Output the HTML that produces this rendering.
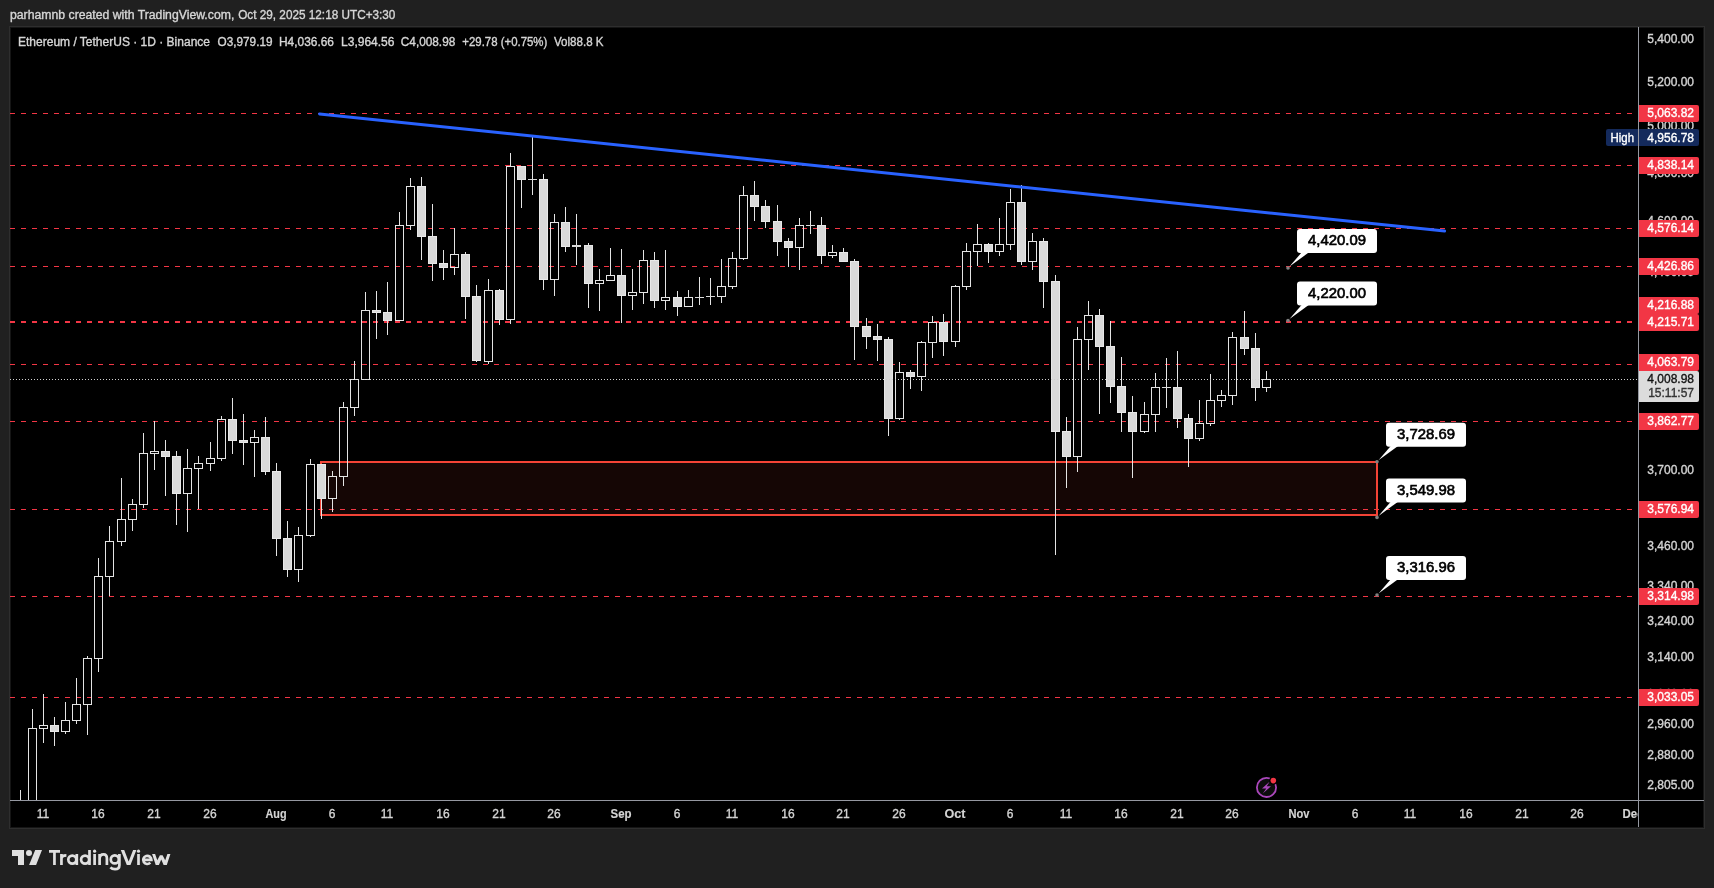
<!DOCTYPE html><html><head><meta charset="utf-8"><style>html,body{margin:0;padding:0;background:#202020;overflow:hidden}svg{display:block}text{font-family:"Liberation Sans", sans-serif}</style></head><body>
<svg style="will-change:transform" width="1714" height="888" viewBox="0 0 1714 888">
<rect x="0" y="0" width="1714" height="888" fill="#202020"/>
<text x="10" y="18.7" font-size="12" fill="#d6d6d6" textLength="224.3" lengthAdjust="spacingAndGlyphs" stroke="#d6d6d6" stroke-width="0.35">parhamnb created with TradingView.com,</text>
<text x="238.2" y="18.7" font-size="12" fill="#d6d6d6" textLength="157.2" lengthAdjust="spacingAndGlyphs" stroke="#d6d6d6" stroke-width="0.35">Oct 29, 2025 12:18 UTC+3:30</text>
<rect x="9" y="26" width="1696" height="803" fill="#2e2e2e" shape-rendering="crispEdges"/>
<rect x="10" y="27" width="1694" height="801" fill="#151515" shape-rendering="crispEdges"/>
<rect x="11" y="28" width="1692" height="799" fill="#000" shape-rendering="crispEdges"/>
<defs><clipPath id="plot"><rect x="10" y="27" width="1628" height="773"/></clipPath><clipPath id="taxis"><rect x="10" y="801" width="1628" height="26"/></clipPath></defs>
<g clip-path="url(#plot)">
<line x1="10" y1="113.5" x2="1638" y2="113.5" stroke="#f23645" stroke-width="1" stroke-dasharray="5 6" shape-rendering="crispEdges"/>
<line x1="10" y1="165.5" x2="1638" y2="165.5" stroke="#f23645" stroke-width="1" stroke-dasharray="5 6" shape-rendering="crispEdges"/>
<line x1="10" y1="228.5" x2="1638" y2="228.5" stroke="#f23645" stroke-width="1" stroke-dasharray="5 6" shape-rendering="crispEdges"/>
<line x1="10" y1="266.5" x2="1638" y2="266.5" stroke="#f23645" stroke-width="1" stroke-dasharray="5 6" shape-rendering="crispEdges"/>
<line x1="10" y1="322.0" x2="1638" y2="322.0" stroke="#f23645" stroke-width="2" stroke-dasharray="5 6" shape-rendering="crispEdges"/>
<line x1="10" y1="364.5" x2="1638" y2="364.5" stroke="#f23645" stroke-width="1" stroke-dasharray="5 6" shape-rendering="crispEdges"/>
<line x1="10" y1="421.5" x2="1638" y2="421.5" stroke="#f23645" stroke-width="1" stroke-dasharray="5 6" shape-rendering="crispEdges"/>
<line x1="10" y1="509.5" x2="1638" y2="509.5" stroke="#f23645" stroke-width="1" stroke-dasharray="5 6" shape-rendering="crispEdges"/>
<line x1="10" y1="596.5" x2="1638" y2="596.5" stroke="#f23645" stroke-width="1" stroke-dasharray="5 6" shape-rendering="crispEdges"/>
<line x1="10" y1="697.5" x2="1638" y2="697.5" stroke="#f23645" stroke-width="1" stroke-dasharray="5 6" shape-rendering="crispEdges"/>
<rect x="321" y="462" width="1056" height="53" fill="rgba(244,67,54,0.085)" stroke="#f44336" stroke-width="2"/>
<rect x="20" y="790" width="1" height="10" fill="#e4e4e4"/>
<rect x="32" y="709" width="1" height="19" fill="#e4e4e4"/>
<rect x="28.5" y="728.5" width="8" height="81" fill="none" stroke="#e4e4e4" stroke-width="1"/>
<rect x="43" y="694" width="1" height="31" fill="#e4e4e4"/>
<rect x="43" y="729" width="1" height="14" fill="#e4e4e4"/>
<rect x="39.5" y="725.5" width="8" height="3" fill="none" stroke="#e4e4e4" stroke-width="1"/>
<rect x="54" y="717" width="1" height="8" fill="#e4e4e4"/>
<rect x="54" y="732" width="1" height="14" fill="#e4e4e4"/>
<rect x="50" y="725" width="9" height="7" fill="#d9d9d9"/>
<rect x="50.5" y="725.5" width="8" height="6" fill="none" stroke="#e8e8e8" stroke-width="1"/>
<rect x="65" y="702" width="1" height="18" fill="#e4e4e4"/>
<rect x="65" y="732" width="1" height="2" fill="#e4e4e4"/>
<rect x="61.5" y="720.5" width="8" height="11" fill="none" stroke="#e4e4e4" stroke-width="1"/>
<rect x="76" y="678" width="1" height="26" fill="#e4e4e4"/>
<rect x="76" y="721" width="1" height="3" fill="#e4e4e4"/>
<rect x="72.5" y="704.5" width="8" height="16" fill="none" stroke="#e4e4e4" stroke-width="1"/>
<rect x="87" y="656" width="1" height="2" fill="#e4e4e4"/>
<rect x="87" y="705" width="1" height="30" fill="#e4e4e4"/>
<rect x="83.5" y="658.5" width="8" height="46" fill="none" stroke="#e4e4e4" stroke-width="1"/>
<rect x="98" y="558" width="1" height="18" fill="#e4e4e4"/>
<rect x="98" y="659" width="1" height="13" fill="#e4e4e4"/>
<rect x="94.5" y="576.5" width="8" height="82" fill="none" stroke="#e4e4e4" stroke-width="1"/>
<rect x="109" y="526" width="1" height="15" fill="#e4e4e4"/>
<rect x="109" y="577" width="1" height="19" fill="#e4e4e4"/>
<rect x="105.5" y="541.5" width="8" height="35" fill="none" stroke="#e4e4e4" stroke-width="1"/>
<rect x="121" y="478" width="1" height="41" fill="#e4e4e4"/>
<rect x="121" y="542" width="1" height="4" fill="#e4e4e4"/>
<rect x="117.5" y="519.5" width="8" height="22" fill="none" stroke="#e4e4e4" stroke-width="1"/>
<rect x="132" y="499" width="1" height="5" fill="#e4e4e4"/>
<rect x="132" y="520" width="1" height="11" fill="#e4e4e4"/>
<rect x="128.5" y="504.5" width="8" height="15" fill="none" stroke="#e4e4e4" stroke-width="1"/>
<rect x="143" y="433" width="1" height="20" fill="#e4e4e4"/>
<rect x="143" y="505" width="1" height="3" fill="#e4e4e4"/>
<rect x="139.5" y="453.5" width="8" height="51" fill="none" stroke="#e4e4e4" stroke-width="1"/>
<rect x="154" y="421" width="1" height="30" fill="#e4e4e4"/>
<rect x="154" y="454" width="1" height="16" fill="#e4e4e4"/>
<rect x="150.5" y="451.5" width="8" height="2" fill="none" stroke="#e4e4e4" stroke-width="1"/>
<rect x="165" y="440" width="1" height="11" fill="#e4e4e4"/>
<rect x="165" y="457" width="1" height="39" fill="#e4e4e4"/>
<rect x="161" y="451" width="9" height="6" fill="#d9d9d9"/>
<rect x="161.5" y="451.5" width="8" height="5" fill="none" stroke="#e8e8e8" stroke-width="1"/>
<rect x="176" y="451" width="1" height="5" fill="#e4e4e4"/>
<rect x="176" y="494" width="1" height="31" fill="#e4e4e4"/>
<rect x="172" y="456" width="9" height="38" fill="#d9d9d9"/>
<rect x="172.5" y="456.5" width="8" height="37" fill="none" stroke="#e8e8e8" stroke-width="1"/>
<rect x="187" y="449" width="1" height="19" fill="#e4e4e4"/>
<rect x="187" y="494" width="1" height="38" fill="#e4e4e4"/>
<rect x="183.5" y="468.5" width="8" height="25" fill="none" stroke="#e4e4e4" stroke-width="1"/>
<rect x="198" y="456" width="1" height="7" fill="#e4e4e4"/>
<rect x="198" y="469" width="1" height="40" fill="#e4e4e4"/>
<rect x="194.5" y="463.5" width="8" height="5" fill="none" stroke="#e4e4e4" stroke-width="1"/>
<rect x="210" y="442" width="1" height="16" fill="#e4e4e4"/>
<rect x="210" y="464" width="1" height="7" fill="#e4e4e4"/>
<rect x="206.5" y="458.5" width="8" height="5" fill="none" stroke="#e4e4e4" stroke-width="1"/>
<rect x="221" y="416" width="1" height="3" fill="#e4e4e4"/>
<rect x="221" y="459" width="1" height="2" fill="#e4e4e4"/>
<rect x="217.5" y="419.5" width="8" height="39" fill="none" stroke="#e4e4e4" stroke-width="1"/>
<rect x="232" y="398" width="1" height="21" fill="#e4e4e4"/>
<rect x="232" y="441" width="1" height="13" fill="#e4e4e4"/>
<rect x="228" y="419" width="9" height="22" fill="#d9d9d9"/>
<rect x="228.5" y="419.5" width="8" height="21" fill="none" stroke="#e8e8e8" stroke-width="1"/>
<rect x="243" y="414" width="1" height="26" fill="#e4e4e4"/>
<rect x="243" y="443" width="1" height="22" fill="#e4e4e4"/>
<rect x="239" y="440" width="9" height="3" fill="#d9d9d9"/>
<rect x="239.5" y="440.5" width="8" height="2" fill="none" stroke="#e8e8e8" stroke-width="1"/>
<rect x="254" y="430" width="1" height="7" fill="#e4e4e4"/>
<rect x="254" y="443" width="1" height="34" fill="#e4e4e4"/>
<rect x="250.5" y="437.5" width="8" height="5" fill="none" stroke="#e4e4e4" stroke-width="1"/>
<rect x="265" y="417" width="1" height="20" fill="#e4e4e4"/>
<rect x="265" y="472" width="1" height="3" fill="#e4e4e4"/>
<rect x="261" y="437" width="9" height="35" fill="#d9d9d9"/>
<rect x="261.5" y="437.5" width="8" height="34" fill="none" stroke="#e8e8e8" stroke-width="1"/>
<rect x="276" y="463" width="1" height="8" fill="#e4e4e4"/>
<rect x="276" y="539" width="1" height="17" fill="#e4e4e4"/>
<rect x="272" y="471" width="9" height="68" fill="#d9d9d9"/>
<rect x="272.5" y="471.5" width="8" height="67" fill="none" stroke="#e8e8e8" stroke-width="1"/>
<rect x="287" y="521" width="1" height="17" fill="#e4e4e4"/>
<rect x="287" y="570" width="1" height="7" fill="#e4e4e4"/>
<rect x="283" y="538" width="9" height="32" fill="#d9d9d9"/>
<rect x="283.5" y="538.5" width="8" height="31" fill="none" stroke="#e8e8e8" stroke-width="1"/>
<rect x="298" y="527" width="1" height="8" fill="#e4e4e4"/>
<rect x="298" y="570" width="1" height="12" fill="#e4e4e4"/>
<rect x="294.5" y="535.5" width="8" height="34" fill="none" stroke="#e4e4e4" stroke-width="1"/>
<rect x="310" y="459" width="1" height="5" fill="#e4e4e4"/>
<rect x="310" y="536" width="1" height="1" fill="#e4e4e4"/>
<rect x="306.5" y="464.5" width="8" height="71" fill="none" stroke="#e4e4e4" stroke-width="1"/>
<rect x="321" y="499" width="1" height="20" fill="#e4e4e4"/>
<rect x="317" y="464" width="9" height="35" fill="#d9d9d9"/>
<rect x="317.5" y="464.5" width="8" height="34" fill="none" stroke="#e8e8e8" stroke-width="1"/>
<rect x="332" y="471" width="1" height="5" fill="#e4e4e4"/>
<rect x="332" y="499" width="1" height="13" fill="#e4e4e4"/>
<rect x="328.5" y="476.5" width="8" height="22" fill="none" stroke="#e4e4e4" stroke-width="1"/>
<rect x="343" y="402" width="1" height="5" fill="#e4e4e4"/>
<rect x="343" y="477" width="1" height="9" fill="#e4e4e4"/>
<rect x="339.5" y="407.5" width="8" height="69" fill="none" stroke="#e4e4e4" stroke-width="1"/>
<rect x="354" y="361" width="1" height="18" fill="#e4e4e4"/>
<rect x="354" y="408" width="1" height="8" fill="#e4e4e4"/>
<rect x="350.5" y="379.5" width="8" height="28" fill="none" stroke="#e4e4e4" stroke-width="1"/>
<rect x="365" y="292" width="1" height="18" fill="#e4e4e4"/>
<rect x="361.5" y="310.5" width="8" height="69" fill="none" stroke="#e4e4e4" stroke-width="1"/>
<rect x="376" y="291" width="1" height="19" fill="#e4e4e4"/>
<rect x="376" y="313" width="1" height="26" fill="#e4e4e4"/>
<rect x="372" y="310" width="9" height="3" fill="#d9d9d9"/>
<rect x="372.5" y="310.5" width="8" height="2" fill="none" stroke="#e8e8e8" stroke-width="1"/>
<rect x="387" y="282" width="1" height="30" fill="#e4e4e4"/>
<rect x="387" y="321" width="1" height="14" fill="#e4e4e4"/>
<rect x="383" y="312" width="9" height="9" fill="#d9d9d9"/>
<rect x="383.5" y="312.5" width="8" height="8" fill="none" stroke="#e8e8e8" stroke-width="1"/>
<rect x="399" y="212" width="1" height="13" fill="#e4e4e4"/>
<rect x="395.5" y="225.5" width="8" height="95" fill="none" stroke="#e4e4e4" stroke-width="1"/>
<rect x="410" y="178" width="1" height="8" fill="#e4e4e4"/>
<rect x="410" y="226" width="1" height="4" fill="#e4e4e4"/>
<rect x="406.5" y="186.5" width="8" height="39" fill="none" stroke="#e4e4e4" stroke-width="1"/>
<rect x="421" y="177" width="1" height="9" fill="#e4e4e4"/>
<rect x="421" y="237" width="1" height="23" fill="#e4e4e4"/>
<rect x="417" y="186" width="9" height="51" fill="#d9d9d9"/>
<rect x="417.5" y="186.5" width="8" height="50" fill="none" stroke="#e8e8e8" stroke-width="1"/>
<rect x="432" y="204" width="1" height="32" fill="#e4e4e4"/>
<rect x="432" y="264" width="1" height="17" fill="#e4e4e4"/>
<rect x="428" y="236" width="9" height="28" fill="#d9d9d9"/>
<rect x="428.5" y="236.5" width="8" height="27" fill="none" stroke="#e8e8e8" stroke-width="1"/>
<rect x="443" y="250" width="1" height="13" fill="#e4e4e4"/>
<rect x="443" y="268" width="1" height="12" fill="#e4e4e4"/>
<rect x="439" y="263" width="9" height="5" fill="#d9d9d9"/>
<rect x="439.5" y="263.5" width="8" height="4" fill="none" stroke="#e8e8e8" stroke-width="1"/>
<rect x="454" y="228" width="1" height="26" fill="#e4e4e4"/>
<rect x="454" y="268" width="1" height="7" fill="#e4e4e4"/>
<rect x="450.5" y="254.5" width="8" height="13" fill="none" stroke="#e4e4e4" stroke-width="1"/>
<rect x="465" y="252" width="1" height="2" fill="#e4e4e4"/>
<rect x="465" y="297" width="1" height="22" fill="#e4e4e4"/>
<rect x="461" y="254" width="9" height="43" fill="#d9d9d9"/>
<rect x="461.5" y="254.5" width="8" height="42" fill="none" stroke="#e8e8e8" stroke-width="1"/>
<rect x="476" y="285" width="1" height="11" fill="#e4e4e4"/>
<rect x="476" y="361" width="1" height="1" fill="#e4e4e4"/>
<rect x="472" y="296" width="9" height="65" fill="#d9d9d9"/>
<rect x="472.5" y="296.5" width="8" height="64" fill="none" stroke="#e8e8e8" stroke-width="1"/>
<rect x="488" y="279" width="1" height="11" fill="#e4e4e4"/>
<rect x="488" y="362" width="1" height="2" fill="#e4e4e4"/>
<rect x="484.5" y="290.5" width="8" height="71" fill="none" stroke="#e4e4e4" stroke-width="1"/>
<rect x="499" y="289" width="1" height="1" fill="#e4e4e4"/>
<rect x="499" y="320" width="1" height="5" fill="#e4e4e4"/>
<rect x="495" y="290" width="9" height="30" fill="#d9d9d9"/>
<rect x="495.5" y="290.5" width="8" height="29" fill="none" stroke="#e8e8e8" stroke-width="1"/>
<rect x="510" y="153" width="1" height="13" fill="#e4e4e4"/>
<rect x="510" y="320" width="1" height="4" fill="#e4e4e4"/>
<rect x="506.5" y="166.5" width="8" height="153" fill="none" stroke="#e4e4e4" stroke-width="1"/>
<rect x="521" y="180" width="1" height="28" fill="#e4e4e4"/>
<rect x="517" y="166" width="9" height="14" fill="#d9d9d9"/>
<rect x="517.5" y="166.5" width="8" height="13" fill="none" stroke="#e8e8e8" stroke-width="1"/>
<rect x="532" y="137" width="1" height="42" fill="#e4e4e4"/>
<rect x="532" y="180" width="1" height="15" fill="#e4e4e4"/>
<rect x="528" y="179" width="9" height="1" fill="#d9d9d9"/>
<rect x="543" y="174" width="1" height="5" fill="#e4e4e4"/>
<rect x="543" y="280" width="1" height="10" fill="#e4e4e4"/>
<rect x="539" y="179" width="9" height="101" fill="#d9d9d9"/>
<rect x="539.5" y="179.5" width="8" height="100" fill="none" stroke="#e8e8e8" stroke-width="1"/>
<rect x="554" y="214" width="1" height="8" fill="#e4e4e4"/>
<rect x="554" y="280" width="1" height="16" fill="#e4e4e4"/>
<rect x="550.5" y="222.5" width="8" height="57" fill="none" stroke="#e4e4e4" stroke-width="1"/>
<rect x="565" y="207" width="1" height="15" fill="#e4e4e4"/>
<rect x="565" y="247" width="1" height="5" fill="#e4e4e4"/>
<rect x="561" y="222" width="9" height="25" fill="#d9d9d9"/>
<rect x="561.5" y="222.5" width="8" height="24" fill="none" stroke="#e8e8e8" stroke-width="1"/>
<rect x="576" y="214" width="1" height="31" fill="#e4e4e4"/>
<rect x="576" y="247" width="1" height="18" fill="#e4e4e4"/>
<rect x="572" y="245" width="9" height="2" fill="#d9d9d9"/>
<rect x="588" y="243" width="1" height="2" fill="#e4e4e4"/>
<rect x="588" y="284" width="1" height="24" fill="#e4e4e4"/>
<rect x="584" y="245" width="9" height="39" fill="#d9d9d9"/>
<rect x="584.5" y="245.5" width="8" height="38" fill="none" stroke="#e8e8e8" stroke-width="1"/>
<rect x="599" y="269" width="1" height="11" fill="#e4e4e4"/>
<rect x="599" y="284" width="1" height="27" fill="#e4e4e4"/>
<rect x="595.5" y="280.5" width="8" height="3" fill="none" stroke="#e4e4e4" stroke-width="1"/>
<rect x="610" y="248" width="1" height="27" fill="#e4e4e4"/>
<rect x="606.5" y="275.5" width="8" height="5" fill="none" stroke="#e4e4e4" stroke-width="1"/>
<rect x="621" y="249" width="1" height="26" fill="#e4e4e4"/>
<rect x="621" y="296" width="1" height="27" fill="#e4e4e4"/>
<rect x="617" y="275" width="9" height="21" fill="#d9d9d9"/>
<rect x="617.5" y="275.5" width="8" height="20" fill="none" stroke="#e8e8e8" stroke-width="1"/>
<rect x="632" y="269" width="1" height="23" fill="#e4e4e4"/>
<rect x="632" y="296" width="1" height="14" fill="#e4e4e4"/>
<rect x="628.5" y="292.5" width="8" height="3" fill="none" stroke="#e4e4e4" stroke-width="1"/>
<rect x="643" y="250" width="1" height="10" fill="#e4e4e4"/>
<rect x="643" y="293" width="1" height="11" fill="#e4e4e4"/>
<rect x="639.5" y="260.5" width="8" height="32" fill="none" stroke="#e4e4e4" stroke-width="1"/>
<rect x="654" y="252" width="1" height="8" fill="#e4e4e4"/>
<rect x="654" y="301" width="1" height="7" fill="#e4e4e4"/>
<rect x="650" y="260" width="9" height="41" fill="#d9d9d9"/>
<rect x="650.5" y="260.5" width="8" height="40" fill="none" stroke="#e8e8e8" stroke-width="1"/>
<rect x="665" y="250" width="1" height="47" fill="#e4e4e4"/>
<rect x="665" y="301" width="1" height="9" fill="#e4e4e4"/>
<rect x="661.5" y="297.5" width="8" height="3" fill="none" stroke="#e4e4e4" stroke-width="1"/>
<rect x="677" y="291" width="1" height="6" fill="#e4e4e4"/>
<rect x="677" y="307" width="1" height="9" fill="#e4e4e4"/>
<rect x="673" y="297" width="9" height="10" fill="#d9d9d9"/>
<rect x="673.5" y="297.5" width="8" height="9" fill="none" stroke="#e8e8e8" stroke-width="1"/>
<rect x="688" y="290" width="1" height="7" fill="#e4e4e4"/>
<rect x="684.5" y="297.5" width="8" height="9" fill="none" stroke="#e4e4e4" stroke-width="1"/>
<rect x="699" y="277" width="1" height="20" fill="#e4e4e4"/>
<rect x="699" y="298" width="1" height="7" fill="#e4e4e4"/>
<rect x="695" y="297" width="9" height="1" fill="#d9d9d9"/>
<rect x="710" y="278" width="1" height="18" fill="#e4e4e4"/>
<rect x="710" y="297" width="1" height="8" fill="#e4e4e4"/>
<rect x="706" y="296" width="9" height="1" fill="#d9d9d9"/>
<rect x="721" y="259" width="1" height="27" fill="#e4e4e4"/>
<rect x="721" y="297" width="1" height="6" fill="#e4e4e4"/>
<rect x="717.5" y="286.5" width="8" height="10" fill="none" stroke="#e4e4e4" stroke-width="1"/>
<rect x="732" y="252" width="1" height="6" fill="#e4e4e4"/>
<rect x="732" y="287" width="1" height="2" fill="#e4e4e4"/>
<rect x="728.5" y="258.5" width="8" height="28" fill="none" stroke="#e4e4e4" stroke-width="1"/>
<rect x="743" y="186" width="1" height="9" fill="#e4e4e4"/>
<rect x="743" y="259" width="1" height="1" fill="#e4e4e4"/>
<rect x="739.5" y="195.5" width="8" height="63" fill="none" stroke="#e4e4e4" stroke-width="1"/>
<rect x="754" y="181" width="1" height="14" fill="#e4e4e4"/>
<rect x="754" y="207" width="1" height="14" fill="#e4e4e4"/>
<rect x="750" y="195" width="9" height="12" fill="#d9d9d9"/>
<rect x="750.5" y="195.5" width="8" height="11" fill="none" stroke="#e8e8e8" stroke-width="1"/>
<rect x="765" y="200" width="1" height="6" fill="#e4e4e4"/>
<rect x="765" y="222" width="1" height="6" fill="#e4e4e4"/>
<rect x="761" y="206" width="9" height="16" fill="#d9d9d9"/>
<rect x="761.5" y="206.5" width="8" height="15" fill="none" stroke="#e8e8e8" stroke-width="1"/>
<rect x="777" y="205" width="1" height="16" fill="#e4e4e4"/>
<rect x="777" y="242" width="1" height="14" fill="#e4e4e4"/>
<rect x="773" y="221" width="9" height="21" fill="#d9d9d9"/>
<rect x="773.5" y="221.5" width="8" height="20" fill="none" stroke="#e8e8e8" stroke-width="1"/>
<rect x="788" y="238" width="1" height="3" fill="#e4e4e4"/>
<rect x="788" y="248" width="1" height="19" fill="#e4e4e4"/>
<rect x="784" y="241" width="9" height="7" fill="#d9d9d9"/>
<rect x="784.5" y="241.5" width="8" height="6" fill="none" stroke="#e8e8e8" stroke-width="1"/>
<rect x="799" y="218" width="1" height="7" fill="#e4e4e4"/>
<rect x="799" y="248" width="1" height="22" fill="#e4e4e4"/>
<rect x="795.5" y="225.5" width="8" height="22" fill="none" stroke="#e4e4e4" stroke-width="1"/>
<rect x="810" y="211" width="1" height="14" fill="#e4e4e4"/>
<rect x="810" y="226" width="1" height="8" fill="#e4e4e4"/>
<rect x="806" y="225" width="9" height="1" fill="#d9d9d9"/>
<rect x="821" y="217" width="1" height="8" fill="#e4e4e4"/>
<rect x="821" y="256" width="1" height="8" fill="#e4e4e4"/>
<rect x="817" y="225" width="9" height="31" fill="#d9d9d9"/>
<rect x="817.5" y="225.5" width="8" height="30" fill="none" stroke="#e8e8e8" stroke-width="1"/>
<rect x="832" y="245" width="1" height="7" fill="#e4e4e4"/>
<rect x="832" y="256" width="1" height="2" fill="#e4e4e4"/>
<rect x="828.5" y="252.5" width="8" height="3" fill="none" stroke="#e4e4e4" stroke-width="1"/>
<rect x="843" y="248" width="1" height="4" fill="#e4e4e4"/>
<rect x="839" y="252" width="9" height="10" fill="#d9d9d9"/>
<rect x="839.5" y="252.5" width="8" height="9" fill="none" stroke="#e8e8e8" stroke-width="1"/>
<rect x="854" y="259" width="1" height="2" fill="#e4e4e4"/>
<rect x="854" y="327" width="1" height="33" fill="#e4e4e4"/>
<rect x="850" y="261" width="9" height="66" fill="#d9d9d9"/>
<rect x="850.5" y="261.5" width="8" height="65" fill="none" stroke="#e8e8e8" stroke-width="1"/>
<rect x="866" y="318" width="1" height="8" fill="#e4e4e4"/>
<rect x="866" y="337" width="1" height="12" fill="#e4e4e4"/>
<rect x="862" y="326" width="9" height="11" fill="#d9d9d9"/>
<rect x="862.5" y="326.5" width="8" height="10" fill="none" stroke="#e8e8e8" stroke-width="1"/>
<rect x="877" y="324" width="1" height="12" fill="#e4e4e4"/>
<rect x="877" y="340" width="1" height="21" fill="#e4e4e4"/>
<rect x="873" y="336" width="9" height="4" fill="#d9d9d9"/>
<rect x="873.5" y="336.5" width="8" height="3" fill="none" stroke="#e8e8e8" stroke-width="1"/>
<rect x="888" y="337" width="1" height="2" fill="#e4e4e4"/>
<rect x="888" y="419" width="1" height="17" fill="#e4e4e4"/>
<rect x="884" y="339" width="9" height="80" fill="#d9d9d9"/>
<rect x="884.5" y="339.5" width="8" height="79" fill="none" stroke="#e8e8e8" stroke-width="1"/>
<rect x="899" y="362" width="1" height="10" fill="#e4e4e4"/>
<rect x="899" y="419" width="1" height="1" fill="#e4e4e4"/>
<rect x="895.5" y="372.5" width="8" height="46" fill="none" stroke="#e4e4e4" stroke-width="1"/>
<rect x="910" y="370" width="1" height="2" fill="#e4e4e4"/>
<rect x="910" y="377" width="1" height="12" fill="#e4e4e4"/>
<rect x="906" y="372" width="9" height="5" fill="#d9d9d9"/>
<rect x="906.5" y="372.5" width="8" height="4" fill="none" stroke="#e8e8e8" stroke-width="1"/>
<rect x="921" y="341" width="1" height="1" fill="#e4e4e4"/>
<rect x="921" y="377" width="1" height="14" fill="#e4e4e4"/>
<rect x="917.5" y="342.5" width="8" height="34" fill="none" stroke="#e4e4e4" stroke-width="1"/>
<rect x="932" y="316" width="1" height="6" fill="#e4e4e4"/>
<rect x="932" y="343" width="1" height="15" fill="#e4e4e4"/>
<rect x="928.5" y="322.5" width="8" height="20" fill="none" stroke="#e4e4e4" stroke-width="1"/>
<rect x="943" y="314" width="1" height="8" fill="#e4e4e4"/>
<rect x="943" y="342" width="1" height="14" fill="#e4e4e4"/>
<rect x="939" y="322" width="9" height="20" fill="#d9d9d9"/>
<rect x="939.5" y="322.5" width="8" height="19" fill="none" stroke="#e8e8e8" stroke-width="1"/>
<rect x="955" y="285" width="1" height="1" fill="#e4e4e4"/>
<rect x="955" y="342" width="1" height="5" fill="#e4e4e4"/>
<rect x="951.5" y="286.5" width="8" height="55" fill="none" stroke="#e4e4e4" stroke-width="1"/>
<rect x="966" y="243" width="1" height="8" fill="#e4e4e4"/>
<rect x="966" y="287" width="1" height="3" fill="#e4e4e4"/>
<rect x="962.5" y="251.5" width="8" height="35" fill="none" stroke="#e4e4e4" stroke-width="1"/>
<rect x="977" y="224" width="1" height="20" fill="#e4e4e4"/>
<rect x="977" y="252" width="1" height="14" fill="#e4e4e4"/>
<rect x="973.5" y="244.5" width="8" height="7" fill="none" stroke="#e4e4e4" stroke-width="1"/>
<rect x="988" y="243" width="1" height="1" fill="#e4e4e4"/>
<rect x="988" y="252" width="1" height="11" fill="#e4e4e4"/>
<rect x="984" y="244" width="9" height="8" fill="#d9d9d9"/>
<rect x="984.5" y="244.5" width="8" height="7" fill="none" stroke="#e8e8e8" stroke-width="1"/>
<rect x="999" y="218" width="1" height="26" fill="#e4e4e4"/>
<rect x="999" y="252" width="1" height="4" fill="#e4e4e4"/>
<rect x="995.5" y="244.5" width="8" height="7" fill="none" stroke="#e4e4e4" stroke-width="1"/>
<rect x="1010" y="189" width="1" height="13" fill="#e4e4e4"/>
<rect x="1010" y="245" width="1" height="5" fill="#e4e4e4"/>
<rect x="1006.5" y="202.5" width="8" height="42" fill="none" stroke="#e4e4e4" stroke-width="1"/>
<rect x="1021" y="185" width="1" height="17" fill="#e4e4e4"/>
<rect x="1021" y="262" width="1" height="3" fill="#e4e4e4"/>
<rect x="1017" y="202" width="9" height="60" fill="#d9d9d9"/>
<rect x="1017.5" y="202.5" width="8" height="59" fill="none" stroke="#e8e8e8" stroke-width="1"/>
<rect x="1032" y="233" width="1" height="8" fill="#e4e4e4"/>
<rect x="1032" y="262" width="1" height="8" fill="#e4e4e4"/>
<rect x="1028.5" y="241.5" width="8" height="20" fill="none" stroke="#e4e4e4" stroke-width="1"/>
<rect x="1043" y="238" width="1" height="3" fill="#e4e4e4"/>
<rect x="1043" y="282" width="1" height="26" fill="#e4e4e4"/>
<rect x="1039" y="241" width="9" height="41" fill="#d9d9d9"/>
<rect x="1039.5" y="241.5" width="8" height="40" fill="none" stroke="#e8e8e8" stroke-width="1"/>
<rect x="1055" y="275" width="1" height="6" fill="#e4e4e4"/>
<rect x="1055" y="432" width="1" height="123" fill="#e4e4e4"/>
<rect x="1051" y="281" width="9" height="151" fill="#d9d9d9"/>
<rect x="1051.5" y="281.5" width="8" height="150" fill="none" stroke="#e8e8e8" stroke-width="1"/>
<rect x="1066" y="417" width="1" height="14" fill="#e4e4e4"/>
<rect x="1066" y="457" width="1" height="31" fill="#e4e4e4"/>
<rect x="1062" y="431" width="9" height="26" fill="#d9d9d9"/>
<rect x="1062.5" y="431.5" width="8" height="25" fill="none" stroke="#e8e8e8" stroke-width="1"/>
<rect x="1077" y="327" width="1" height="12" fill="#e4e4e4"/>
<rect x="1077" y="457" width="1" height="15" fill="#e4e4e4"/>
<rect x="1073.5" y="339.5" width="8" height="117" fill="none" stroke="#e4e4e4" stroke-width="1"/>
<rect x="1088" y="301" width="1" height="14" fill="#e4e4e4"/>
<rect x="1088" y="340" width="1" height="30" fill="#e4e4e4"/>
<rect x="1084.5" y="315.5" width="8" height="24" fill="none" stroke="#e4e4e4" stroke-width="1"/>
<rect x="1099" y="309" width="1" height="6" fill="#e4e4e4"/>
<rect x="1099" y="347" width="1" height="67" fill="#e4e4e4"/>
<rect x="1095" y="315" width="9" height="32" fill="#d9d9d9"/>
<rect x="1095.5" y="315.5" width="8" height="31" fill="none" stroke="#e8e8e8" stroke-width="1"/>
<rect x="1110" y="321" width="1" height="25" fill="#e4e4e4"/>
<rect x="1110" y="387" width="1" height="16" fill="#e4e4e4"/>
<rect x="1106" y="346" width="9" height="41" fill="#d9d9d9"/>
<rect x="1106.5" y="346.5" width="8" height="40" fill="none" stroke="#e8e8e8" stroke-width="1"/>
<rect x="1121" y="357" width="1" height="29" fill="#e4e4e4"/>
<rect x="1121" y="413" width="1" height="19" fill="#e4e4e4"/>
<rect x="1117" y="386" width="9" height="27" fill="#d9d9d9"/>
<rect x="1117.5" y="386.5" width="8" height="26" fill="none" stroke="#e8e8e8" stroke-width="1"/>
<rect x="1132" y="396" width="1" height="16" fill="#e4e4e4"/>
<rect x="1132" y="432" width="1" height="46" fill="#e4e4e4"/>
<rect x="1128" y="412" width="9" height="20" fill="#d9d9d9"/>
<rect x="1128.5" y="412.5" width="8" height="19" fill="none" stroke="#e8e8e8" stroke-width="1"/>
<rect x="1144" y="402" width="1" height="12" fill="#e4e4e4"/>
<rect x="1144" y="432" width="1" height="1" fill="#e4e4e4"/>
<rect x="1140.5" y="414.5" width="8" height="17" fill="none" stroke="#e4e4e4" stroke-width="1"/>
<rect x="1155" y="373" width="1" height="14" fill="#e4e4e4"/>
<rect x="1155" y="415" width="1" height="17" fill="#e4e4e4"/>
<rect x="1151.5" y="387.5" width="8" height="27" fill="none" stroke="#e4e4e4" stroke-width="1"/>
<rect x="1166" y="358" width="1" height="29" fill="#e4e4e4"/>
<rect x="1166" y="388" width="1" height="20" fill="#e4e4e4"/>
<rect x="1162" y="387" width="9" height="1" fill="#d9d9d9"/>
<rect x="1177" y="351" width="1" height="36" fill="#e4e4e4"/>
<rect x="1177" y="419" width="1" height="9" fill="#e4e4e4"/>
<rect x="1173" y="387" width="9" height="32" fill="#d9d9d9"/>
<rect x="1173.5" y="387.5" width="8" height="31" fill="none" stroke="#e8e8e8" stroke-width="1"/>
<rect x="1188" y="414" width="1" height="4" fill="#e4e4e4"/>
<rect x="1188" y="439" width="1" height="28" fill="#e4e4e4"/>
<rect x="1184" y="418" width="9" height="21" fill="#d9d9d9"/>
<rect x="1184.5" y="418.5" width="8" height="20" fill="none" stroke="#e8e8e8" stroke-width="1"/>
<rect x="1199" y="400" width="1" height="23" fill="#e4e4e4"/>
<rect x="1199" y="439" width="1" height="2" fill="#e4e4e4"/>
<rect x="1195.5" y="423.5" width="8" height="15" fill="none" stroke="#e4e4e4" stroke-width="1"/>
<rect x="1210" y="374" width="1" height="26" fill="#e4e4e4"/>
<rect x="1210" y="424" width="1" height="2" fill="#e4e4e4"/>
<rect x="1206.5" y="400.5" width="8" height="23" fill="none" stroke="#e4e4e4" stroke-width="1"/>
<rect x="1221" y="390" width="1" height="5" fill="#e4e4e4"/>
<rect x="1221" y="401" width="1" height="6" fill="#e4e4e4"/>
<rect x="1217.5" y="395.5" width="8" height="5" fill="none" stroke="#e4e4e4" stroke-width="1"/>
<rect x="1232" y="332" width="1" height="5" fill="#e4e4e4"/>
<rect x="1232" y="396" width="1" height="9" fill="#e4e4e4"/>
<rect x="1228.5" y="337.5" width="8" height="58" fill="none" stroke="#e4e4e4" stroke-width="1"/>
<rect x="1244" y="311" width="1" height="26" fill="#e4e4e4"/>
<rect x="1244" y="349" width="1" height="6" fill="#e4e4e4"/>
<rect x="1240" y="337" width="9" height="12" fill="#d9d9d9"/>
<rect x="1240.5" y="337.5" width="8" height="11" fill="none" stroke="#e8e8e8" stroke-width="1"/>
<rect x="1255" y="333" width="1" height="15" fill="#e4e4e4"/>
<rect x="1255" y="388" width="1" height="13" fill="#e4e4e4"/>
<rect x="1251" y="348" width="9" height="40" fill="#d9d9d9"/>
<rect x="1251.5" y="348.5" width="8" height="39" fill="none" stroke="#e8e8e8" stroke-width="1"/>
<rect x="1266" y="371" width="1" height="8" fill="#e4e4e4"/>
<rect x="1266" y="388" width="1" height="4" fill="#e4e4e4"/>
<rect x="1262.5" y="379.5" width="8" height="8" fill="none" stroke="#e4e4e4" stroke-width="1"/>
<line x1="319.6" y1="114" x2="1444.6" y2="231.1" stroke="#2962ff" stroke-width="3" stroke-linecap="round"/>
<line x1="10" y1="379.5" x2="1638" y2="379.5" stroke="#d0d0d0" stroke-width="1" stroke-dasharray="1 2" stroke-dashoffset="0" shape-rendering="crispEdges"/>
<path d="M1302,252 L1309.4,252 L1289.5,266.5 Z" fill="#fff"/>
<rect x="1297" y="229" width="80" height="24" rx="3" fill="#fff"/>
<circle cx="1288" cy="268" r="1.8" fill="#808080"/>
<text x="1337" y="245.2" font-size="13.8" fill="#000" stroke="#000" stroke-width="0.6" text-anchor="middle" textLength="58" lengthAdjust="spacingAndGlyphs">4,420.09</text>
<path d="M1302,304.5 L1309.4,304.5 L1289.5,319.0 Z" fill="#fff"/>
<rect x="1297" y="281.5" width="80" height="24" rx="3" fill="#fff"/>
<circle cx="1288" cy="320.5" r="1.8" fill="#808080"/>
<text x="1337" y="297.7" font-size="13.8" fill="#000" stroke="#000" stroke-width="0.6" text-anchor="middle" textLength="58" lengthAdjust="spacingAndGlyphs">4,220.00</text>
<path d="M1391,445.7 L1398.4,445.7 L1378.5,460.2 Z" fill="#fff"/>
<rect x="1386" y="422.7" width="80" height="24" rx="3" fill="#fff"/>
<circle cx="1377" cy="461.7" r="1.8" fill="#808080"/>
<text x="1426" y="438.9" font-size="13.8" fill="#000" stroke="#000" stroke-width="0.6" text-anchor="middle" textLength="58" lengthAdjust="spacingAndGlyphs">3,728.69</text>
<path d="M1391,501.4 L1398.4,501.4 L1378.5,515.9 Z" fill="#fff"/>
<rect x="1386" y="478.4" width="80" height="24" rx="3" fill="#fff"/>
<circle cx="1377" cy="517.4" r="1.8" fill="#808080"/>
<text x="1426" y="494.59999999999997" font-size="13.8" fill="#000" stroke="#000" stroke-width="0.6" text-anchor="middle" textLength="58" lengthAdjust="spacingAndGlyphs">3,549.98</text>
<path d="M1391,579 L1398.4,579 L1378.5,593.5 Z" fill="#fff"/>
<rect x="1386" y="556" width="80" height="24" rx="3" fill="#fff"/>
<circle cx="1377" cy="595" r="1.8" fill="#808080"/>
<text x="1426" y="572.2" font-size="13.8" fill="#000" stroke="#000" stroke-width="0.6" text-anchor="middle" textLength="58" lengthAdjust="spacingAndGlyphs">3,316.96</text>
<circle cx="1266.5" cy="787.4" r="9.6" fill="#0d0d0d" stroke="#ab47bc" stroke-width="1.8"/>
<path d="M1269.8,781.6 L1262,788.6 L1266.3,788.6 L1262.8,793.6 L1271,786.2 L1266.7,786.2 Z" fill="#ab47bc"/>
<circle cx="1273.3" cy="780.6" r="4.2" fill="#000"/>
<circle cx="1273.3" cy="780.6" r="2.8" fill="#f23645"/>
</g>
<rect x="10" y="800" width="1694" height="1" fill="#9598a1" shape-rendering="crispEdges"/>
<rect x="1638" y="27" width="1" height="800" fill="#9598a1" shape-rendering="crispEdges"/>
<text x="1694" y="42.6" font-size="12" fill="#d4d4d4" text-anchor="end" stroke="#d4d4d4" stroke-width="0.35">5,400.00</text>
<text x="1694" y="85.6" font-size="12" fill="#d4d4d4" text-anchor="end" stroke="#d4d4d4" stroke-width="0.35">5,200.00</text>
<text x="1694" y="130.3" font-size="12" fill="#d4d4d4" text-anchor="end" stroke="#d4d4d4" stroke-width="0.35">5,000.00</text>
<text x="1694" y="176.8" font-size="12" fill="#d4d4d4" text-anchor="end" stroke="#d4d4d4" stroke-width="0.35">4,800.00</text>
<text x="1694" y="225.4" font-size="12" fill="#d4d4d4" text-anchor="end" stroke="#d4d4d4" stroke-width="0.35">4,600.00</text>
<text x="1694" y="276.0" font-size="12" fill="#d4d4d4" text-anchor="end" stroke="#d4d4d4" stroke-width="0.35">4,400.00</text>
<text x="1694" y="384.7" font-size="12" fill="#d4d4d4" text-anchor="end" stroke="#d4d4d4" stroke-width="0.35">4,000.00</text>
<text x="1694" y="425.3" font-size="12" fill="#d4d4d4" text-anchor="end" stroke="#d4d4d4" stroke-width="0.35">3,860.00</text>
<text x="1694" y="473.6" font-size="12" fill="#d4d4d4" text-anchor="end" stroke="#d4d4d4" stroke-width="0.35">3,700.00</text>
<text x="1694" y="550.0" font-size="12" fill="#d4d4d4" text-anchor="end" stroke="#d4d4d4" stroke-width="0.35">3,460.00</text>
<text x="1694" y="590.2" font-size="12" fill="#d4d4d4" text-anchor="end" stroke="#d4d4d4" stroke-width="0.35">3,340.00</text>
<text x="1694" y="624.9" font-size="12" fill="#d4d4d4" text-anchor="end" stroke="#d4d4d4" stroke-width="0.35">3,240.00</text>
<text x="1694" y="660.6" font-size="12" fill="#d4d4d4" text-anchor="end" stroke="#d4d4d4" stroke-width="0.35">3,140.00</text>
<text x="1694" y="697.5" font-size="12" fill="#d4d4d4" text-anchor="end" stroke="#d4d4d4" stroke-width="0.35">3,040.00</text>
<text x="1694" y="727.9" font-size="12" fill="#d4d4d4" text-anchor="end" stroke="#d4d4d4" stroke-width="0.35">2,960.00</text>
<text x="1694" y="759.2" font-size="12" fill="#d4d4d4" text-anchor="end" stroke="#d4d4d4" stroke-width="0.35">2,880.00</text>
<text x="1694" y="789.3" font-size="12" fill="#d4d4d4" text-anchor="end" stroke="#d4d4d4" stroke-width="0.35">2,805.00</text>
<path d="M1639,105 h58 a2,2 0 0 1 2,2 v13 a2,2 0 0 1 -2,2 h-58 Z" fill="#f23645"/>
<text x="1694" y="117.1" font-size="12" fill="#fff" text-anchor="end" stroke="#fff" stroke-width="0.35">5,063.82</text>
<path d="M1608,129 h89 a2,2 0 0 1 2,2 v13 a2,2 0 0 1 -2,2 h-89 a2,2 0 0 1 -2,-2 v-13 a2,2 0 0 1 2,-2 Z" fill="#142a5c"/>
<rect x="1638" y="129" width="1" height="17" fill="#9598a1"/>
<text x="1610.5" y="142" font-size="12" fill="#fff" textLength="23.5" lengthAdjust="spacingAndGlyphs" stroke="#fff" stroke-width="0.35">High</text>
<text x="1694" y="142" font-size="12" fill="#fff" text-anchor="end" stroke="#fff" stroke-width="0.35">4,956.78</text>
<path d="M1639,157 h58 a2,2 0 0 1 2,2 v13 a2,2 0 0 1 -2,2 h-58 Z" fill="#f23645"/>
<text x="1694" y="169.1" font-size="12" fill="#fff" text-anchor="end" stroke="#fff" stroke-width="0.35">4,838.14</text>
<path d="M1639,220 h58 a2,2 0 0 1 2,2 v13 a2,2 0 0 1 -2,2 h-58 Z" fill="#f23645"/>
<text x="1694" y="232.1" font-size="12" fill="#fff" text-anchor="end" stroke="#fff" stroke-width="0.35">4,576.14</text>
<path d="M1639,258 h58 a2,2 0 0 1 2,2 v13 a2,2 0 0 1 -2,2 h-58 Z" fill="#f23645"/>
<text x="1694" y="270.1" font-size="12" fill="#fff" text-anchor="end" stroke="#fff" stroke-width="0.35">4,426.86</text>
<path d="M1639,297 h58 a2,2 0 0 1 2,2 v13 a2,2 0 0 1 -2,2 h-58 Z" fill="#f23645"/>
<text x="1694" y="309.1" font-size="12" fill="#fff" text-anchor="end" stroke="#fff" stroke-width="0.35">4,216.88</text>
<path d="M1639,314 h58 a2,2 0 0 1 2,2 v13 a2,2 0 0 1 -2,2 h-58 Z" fill="#f23645"/>
<text x="1694" y="326.1" font-size="12" fill="#fff" text-anchor="end" stroke="#fff" stroke-width="0.35">4,215.71</text>
<path d="M1639,354 h58 a2,2 0 0 1 2,2 v13 a2,2 0 0 1 -2,2 h-58 Z" fill="#f23645"/>
<text x="1694" y="366.1" font-size="12" fill="#fff" text-anchor="end" stroke="#fff" stroke-width="0.35">4,063.79</text>
<path d="M1639,371 h58 a2,2 0 0 1 2,2 v27 a2,2 0 0 1 -2,2 h-58 Z" fill="#dcdcdc"/>
<text x="1694" y="382.5" font-size="12" fill="#111" text-anchor="end" stroke="#111" stroke-width="0.35">4,008.98</text>
<text x="1694" y="396.7" font-size="12" fill="#333" text-anchor="end" stroke="#333" stroke-width="0.35">15:11:57</text>
<path d="M1639,413 h58 a2,2 0 0 1 2,2 v13 a2,2 0 0 1 -2,2 h-58 Z" fill="#f23645"/>
<text x="1694" y="425.1" font-size="12" fill="#fff" text-anchor="end" stroke="#fff" stroke-width="0.35">3,862.77</text>
<path d="M1639,501 h58 a2,2 0 0 1 2,2 v13 a2,2 0 0 1 -2,2 h-58 Z" fill="#f23645"/>
<text x="1694" y="513.1" font-size="12" fill="#fff" text-anchor="end" stroke="#fff" stroke-width="0.35">3,576.94</text>
<path d="M1639,588 h58 a2,2 0 0 1 2,2 v13 a2,2 0 0 1 -2,2 h-58 Z" fill="#f23645"/>
<text x="1694" y="600.1" font-size="12" fill="#fff" text-anchor="end" stroke="#fff" stroke-width="0.35">3,314.98</text>
<path d="M1639,689 h58 a2,2 0 0 1 2,2 v13 a2,2 0 0 1 -2,2 h-58 Z" fill="#f23645"/>
<text x="1694" y="701.1" font-size="12" fill="#fff" text-anchor="end" stroke="#fff" stroke-width="0.35">3,033.05</text>
<g clip-path="url(#taxis)">
<text x="43" y="817.8" font-size="12" fill="#d4d4d4" text-anchor="middle" stroke="#d4d4d4" stroke-width="0.35">11</text>
<text x="98" y="817.8" font-size="12" fill="#d4d4d4" text-anchor="middle" stroke="#d4d4d4" stroke-width="0.35">16</text>
<text x="154" y="817.8" font-size="12" fill="#d4d4d4" text-anchor="middle" stroke="#d4d4d4" stroke-width="0.35">21</text>
<text x="210" y="817.8" font-size="12" fill="#d4d4d4" text-anchor="middle" stroke="#d4d4d4" stroke-width="0.35">26</text>
<text x="276" y="817.8" font-size="12" fill="#d4d4d4" text-anchor="middle" font-weight="bold" textLength="21" lengthAdjust="spacingAndGlyphs" stroke="#d4d4d4" stroke-width="0.15">Aug</text>
<text x="332" y="817.8" font-size="12" fill="#d4d4d4" text-anchor="middle" stroke="#d4d4d4" stroke-width="0.35">6</text>
<text x="387" y="817.8" font-size="12" fill="#d4d4d4" text-anchor="middle" stroke="#d4d4d4" stroke-width="0.35">11</text>
<text x="443" y="817.8" font-size="12" fill="#d4d4d4" text-anchor="middle" stroke="#d4d4d4" stroke-width="0.35">16</text>
<text x="499" y="817.8" font-size="12" fill="#d4d4d4" text-anchor="middle" stroke="#d4d4d4" stroke-width="0.35">21</text>
<text x="554" y="817.8" font-size="12" fill="#d4d4d4" text-anchor="middle" stroke="#d4d4d4" stroke-width="0.35">26</text>
<text x="621" y="817.8" font-size="12" fill="#d4d4d4" text-anchor="middle" font-weight="bold" textLength="21" lengthAdjust="spacingAndGlyphs" stroke="#d4d4d4" stroke-width="0.15">Sep</text>
<text x="677" y="817.8" font-size="12" fill="#d4d4d4" text-anchor="middle" stroke="#d4d4d4" stroke-width="0.35">6</text>
<text x="732" y="817.8" font-size="12" fill="#d4d4d4" text-anchor="middle" stroke="#d4d4d4" stroke-width="0.35">11</text>
<text x="788" y="817.8" font-size="12" fill="#d4d4d4" text-anchor="middle" stroke="#d4d4d4" stroke-width="0.35">16</text>
<text x="843" y="817.8" font-size="12" fill="#d4d4d4" text-anchor="middle" stroke="#d4d4d4" stroke-width="0.35">21</text>
<text x="899" y="817.8" font-size="12" fill="#d4d4d4" text-anchor="middle" stroke="#d4d4d4" stroke-width="0.35">26</text>
<text x="955" y="817.8" font-size="12" fill="#d4d4d4" text-anchor="middle" font-weight="bold" textLength="21" lengthAdjust="spacingAndGlyphs" stroke="#d4d4d4" stroke-width="0.15">Oct</text>
<text x="1010" y="817.8" font-size="12" fill="#d4d4d4" text-anchor="middle" stroke="#d4d4d4" stroke-width="0.35">6</text>
<text x="1066" y="817.8" font-size="12" fill="#d4d4d4" text-anchor="middle" stroke="#d4d4d4" stroke-width="0.35">11</text>
<text x="1121" y="817.8" font-size="12" fill="#d4d4d4" text-anchor="middle" stroke="#d4d4d4" stroke-width="0.35">16</text>
<text x="1177" y="817.8" font-size="12" fill="#d4d4d4" text-anchor="middle" stroke="#d4d4d4" stroke-width="0.35">21</text>
<text x="1232" y="817.8" font-size="12" fill="#d4d4d4" text-anchor="middle" stroke="#d4d4d4" stroke-width="0.35">26</text>
<text x="1299" y="817.8" font-size="12" fill="#d4d4d4" text-anchor="middle" font-weight="bold" textLength="21" lengthAdjust="spacingAndGlyphs" stroke="#d4d4d4" stroke-width="0.15">Nov</text>
<text x="1355" y="817.8" font-size="12" fill="#d4d4d4" text-anchor="middle" stroke="#d4d4d4" stroke-width="0.35">6</text>
<text x="1410" y="817.8" font-size="12" fill="#d4d4d4" text-anchor="middle" stroke="#d4d4d4" stroke-width="0.35">11</text>
<text x="1466" y="817.8" font-size="12" fill="#d4d4d4" text-anchor="middle" stroke="#d4d4d4" stroke-width="0.35">16</text>
<text x="1522" y="817.8" font-size="12" fill="#d4d4d4" text-anchor="middle" stroke="#d4d4d4" stroke-width="0.35">21</text>
<text x="1577" y="817.8" font-size="12" fill="#d4d4d4" text-anchor="middle" stroke="#d4d4d4" stroke-width="0.35">26</text>
<text x="1633" y="817.8" font-size="12" fill="#d4d4d4" text-anchor="middle" font-weight="bold" textLength="21" lengthAdjust="spacingAndGlyphs" stroke="#d4d4d4" stroke-width="0.15">Dec</text>
</g>
<text x="18" y="45.7" font-size="12" fill="#d6d6d6" textLength="192" lengthAdjust="spacingAndGlyphs" stroke="#d6d6d6" stroke-width="0.35">Ethereum / TetherUS · 1D · Binance</text>
<text x="217.5" y="45.7" font-size="12" fill="#d6d6d6" textLength="55" lengthAdjust="spacingAndGlyphs" stroke="#d6d6d6" stroke-width="0.35">O3,979.19</text>
<text x="279" y="45.7" font-size="12" fill="#d6d6d6" textLength="55" lengthAdjust="spacingAndGlyphs" stroke="#d6d6d6" stroke-width="0.35">H4,036.66</text>
<text x="341" y="45.7" font-size="12" fill="#d6d6d6" textLength="53.5" lengthAdjust="spacingAndGlyphs" stroke="#d6d6d6" stroke-width="0.35">L3,964.56</text>
<text x="400.8" y="45.7" font-size="12" fill="#d6d6d6" textLength="54.5" lengthAdjust="spacingAndGlyphs" stroke="#d6d6d6" stroke-width="0.35">C4,008.98</text>
<text x="462.3" y="45.7" font-size="12" fill="#d6d6d6" textLength="85" lengthAdjust="spacingAndGlyphs" stroke="#d6d6d6" stroke-width="0.35">+29.78 (+0.75%)</text>
<text x="554" y="45.7" font-size="12" fill="#d6d6d6" textLength="49.5" lengthAdjust="spacingAndGlyphs" stroke="#d6d6d6" stroke-width="0.35">Vol88.8 K</text>
<path d="M12,850 H24 V865 H18 V856 H12 Z" fill="#e0e0e0"/>
<circle cx="29" cy="853" r="3" fill="#e0e0e0"/>
<path d="M35.2,850 H42 L36.1,865 H29.1 Z" fill="#e0e0e0"/>
<g fill="none" stroke="#e0e0e0" stroke-width="2.7"><path d="M49,851.35 H60 M54.45,850 V865"/><path d="M61.45,865 V854 M61.45,858.6 Q61.6,855.3 66.4,855.3"/><circle cx="72.3" cy="859.6" r="4.0"/><path d="M76.8,854 V865"/><circle cx="85.1" cy="859.6" r="4.0"/><path d="M89.5,850 V865"/><path d="M94.6,854 V865"/><path d="M99.6,865 V854 M99.6,859 C99.6,855.8 101.4,854.4 103.6,854.4 C105.9,854.4 106.9,856 106.9,858.6 V865"/><circle cx="114.8" cy="859.4" r="4.0"/><path d="M119.4,854 V865.3 C119.4,868 117.5,869.2 115,869.2 C113,869.2 111.4,868.5 110.4,867.4"/><path d="M138.5,854 V865"/><path d="M143.2,859.9 H151.4 A4.1,4.1 0 1 0 150.3,862.7"/></g><circle cx="94.6" cy="851.2" r="1.6" fill="#e0e0e0"/><circle cx="138.5" cy="851.2" r="1.6" fill="#e0e0e0"/><path d="M120.8,850 H124.2 L128.65,861.6 L133.1,850 H136.4 L130.5,865 H126.8 Z" fill="#e0e0e0"/><path d="M152.1,854.1 H155.1 L157.3,860.3 L159.9,855.3 H162.6 L165.2,860.3 L167.4,854.1 H170.4 L166.8,865 H163.6 L161.25,859.5 L158.9,865 H155.7 Z" fill="#e0e0e0"/>
</svg></body></html>
